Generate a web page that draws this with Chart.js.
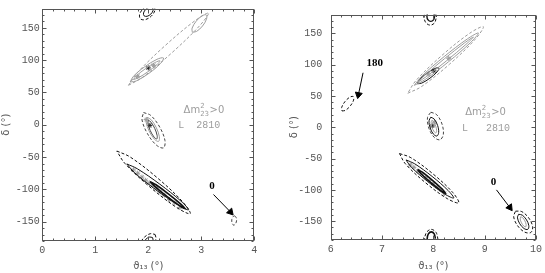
<!DOCTYPE html>
<html>
<head>
<meta charset="utf-8">
<script src="https://cdn.jsdelivr.net/npm/chart.js@4.4.1/dist/chart.umd.min.js"></script>
<style>
    html, body { margin: 0; padding: 0; background: #fff; }
    #wrap { position: relative; width: 545px; height: 273px; overflow: hidden; }
    .panel { position: absolute; top: 0; height: 273px; }
    #leftBox { left: 0; width: 272px; }
    #rightBox { left: 272px; width: 273px; }
</style>
</head>
<body>
<div id="wrap">
    <div class="panel" id="leftBox"><canvas id="leftChart"></canvas></div>
    <div class="panel" id="rightBox"><canvas id="rightChart"></canvas></div>
</div>
<script>
(function () {
    'use strict';

    // ---- left panel (theta13 ~ 2 deg) ----
    const leftXTicks = [0, 1, 2, 3, 4];
    const leftYTicks = [-150, -100, -50, 0, 50, 100, 150];

    const leftTopSolid = [[2.08, 181.3], [2.09, 176.9], [2.047, 171.3], [1.976, 167.9], [1.92, 168.7], [1.91, 173.1], [1.953, 178.7], [2.024, 182.1]];
    const leftTopDashed = [[2.108, 184.1], [2.124, 177.0], [2.055, 168.1], [1.942, 162.7], [1.852, 163.9], [1.836, 171.0], [1.905, 179.9], [2.018, 185.3]];
    const leftBottomSolid = [[2.08, -174.7], [2.09, -179.1], [2.047, -184.7], [1.976, -188.1], [1.92, -187.3], [1.91, -182.9], [1.953, -177.3], [2.024, -173.9]];
    const leftBottomDashed = [[2.128, -169.9], [2.144, -177.0], [2.075, -185.9], [1.962, -191.3], [1.872, -190.1], [1.856, -183.0], [1.925, -174.1], [2.038, -168.7]];

    const leftUpperGraySolid = [[1.658, 66.1], [1.782, 68.18], [2.018, 79.98], [2.227, 94.58], [2.287, 103.4], [2.163, 101.32], [1.928, 89.52], [1.718, 74.92]];
    const leftUpperGrayInner = [[1.72, 70], [1.809, 72.53], [1.992, 82.1], [2.163, 93.07], [2.22, 99], [2.131, 96.47], [1.948, 86.9], [1.777, 75.93]];
    const leftUpperGrayTip = [[2.83, 143.2], [2.911, 144.5], [3.023, 152.9], [3.098, 163.5], [3.095, 170.0], [3.014, 168.7], [2.903, 160.3], [2.827, 149.7]];
    const leftUpperGrayDashed = [[1.626, 61.1], [1.893, 73.59], [2.447, 111.61], [2.963, 152.81], [3.138, 173.0], [2.871, 160.51], [2.317, 122.49], [1.801, 81.29]];

    const leftMiddleGray = [[1.974, 11.5], [2.054, 7.82], [2.152, -4.64], [2.209, -18.58], [2.193, -25.8], [2.113, -22.12], [2.015, -9.66], [1.958, 4.28]];
    const leftMiddleInner = [[2.0, 7], [2.053, 3.88], [2.123, -5.93], [2.167, -16.66], [2.16, -22], [2.107, -18.88], [2.037, -9.07], [1.993, 1.66]];
    const leftMiddleDashed = [[1.909, 18.9], [2.046, 14.45], [2.214, -3.45], [2.314, -24.27], [2.287, -35.8], [2.15, -31.35], [1.982, -13.45], [1.882, 7.37]];

    const leftLowerSolid = [[1.595, -60.7], [1.794, -68.2], [2.217, -92.0], [2.618, -118.4], [2.76, -131.7], [2.561, -124.2], [2.138, -100.4], [1.737, -74.0]];
    const leftLowerDashed = [[1.406, -40.7], [1.66, -50.06], [2.173, -82.4], [2.642, -118.74], [2.792, -137.7], [2.538, -128.34], [2.025, -96.0], [1.556, -59.66]];
    const leftLowerCore = [[2.036, -88.0], [2.145, -92.9], [2.384, -107.3], [2.613, -122.8], [2.698, -130.2], [2.589, -125.3], [2.35, -110.9], [2.121, -95.4]];

    const leftFarDashed = [[3.63, -141], [3.66, -144], [3.665, -149], [3.645, -153.5], [3.61, -155.5], [3.58, -152], [3.575, -147], [3.595, -142.5]];

    const leftBestFit = [[2.0, 88], [2.03, -1]];
    const leftGrayStars = [[1.72, -70], [1.8, -75], [1.88, -81], [1.95, -86], [2.02, -90], [2.08, -94], [2.15, -99], [2.22, -104], [2.3, -109], [2.4, -116], [2.5, -121], [2.6, -128], [1.8, 75], [2.1, 92], [1.96, 8]];
    const leftZeroArrow = [[3.23, -108], [3.55, -135]];

    // ---- right panel (theta13 ~ 8 deg) ----
    const rightXTicks = [6, 7, 8, 9, 10];
    const rightYTicks = [-150, -100, -50, 0, 50, 100, 150];

    const rightTopSolid = [[8.025, 177], [8.003, 182.66], [7.95, 185], [7.897, 182.66], [7.875, 177], [7.897, 171.34], [7.95, 169], [8.003, 171.34]];
    const rightTopDashed = [[8.06, 176], [8.025, 185.19], [7.94, 189], [7.855, 185.19], [7.82, 176], [7.855, 166.81], [7.94, 163], [8.025, 166.81]];
    const rightBottomSolid = [[8.04, -178], [8.017, -170.2], [7.96, -167], [7.903, -170.2], [7.88, -178], [7.903, -185.8], [7.96, -189], [8.017, -185.8]];
    const rightBottomDashed = [[8.09, -179], [8.052, -167.7], [7.96, -163], [7.868, -167.7], [7.83, -179], [7.868, -190.3], [7.96, -195], [8.052, -190.3]];

    const rightUpperGraySolid = [[7.628, 66.9], [7.841, 76.23], [8.297, 104.64], [8.727, 135.42], [8.878, 150.5], [8.665, 141.16], [8.21, 112.76], [7.78, 81.97]];
    const rightUpperGrayInner = [[7.7, 72], [7.871, 81.28], [8.259, 106.26], [8.635, 132.26], [8.78, 144], [8.609, 134.72], [8.221, 109.74], [7.845, 83.74]];
    const rightUpperGrayDashed = [[7.5, 54.2], [7.77, 64.97], [8.315, 100.67], [8.814, 140.31], [8.974, 160.6], [8.704, 149.83], [8.159, 114.13], [7.66, 74.49]];
    const rightUpperBlack = [[7.69, 69.4], [7.776, 70.54], [7.935, 78.45], [8.074, 88.46], [8.11, 94.7], [8.024, 93.56], [7.865, 85.65], [7.726, 75.64]];

    const rightMiddleSolid = [[7.95, 16], [8.019, 12.92], [8.083, 2.84], [8.104, -8.32], [8.07, -14], [8.001, -10.92], [7.937, -0.84], [7.916, 10.32]];
    const rightMiddleDashed = [[7.95, 24], [8.067, 19.9], [8.168, 5.28], [8.195, -11.26], [8.13, -20], [8.014, -15.9], [7.912, -1.28], [7.886, 15.26]];
    const rightMiddleGray = [[7.97, 11], [8.008, 8.73], [8.046, 1.92], [8.064, -5.43], [8.05, -9], [8.012, -6.73], [7.974, 0.08], [7.956, 7.43]];

    const rightLowerSolid = [[7.468, -52.2], [7.634, -58.19], [7.976, -78.51], [8.291, -101.23], [8.397, -113], [8.231, -107.01], [7.89, -86.69], [7.573, -63.97]];
    const rightLowerDashed = [[7.34, -42], [7.562, -48.6], [7.992, -74.4], [8.379, -104.24], [8.494, -120.6], [8.272, -114.0], [7.842, -88.2], [7.455, -58.36]];
    const rightLowerCore = [[7.692, -67.4], [7.785, -71.71], [7.983, -84.65], [8.17, -98.61], [8.237, -105.4], [8.144, -101.09], [7.946, -88.15], [7.759, -74.19]];

    const rightFarSolid = [[9.66, -139], [9.733, -140.31], [9.816, -147.9], [9.861, -157.31], [9.84, -163], [9.767, -161.69], [9.684, -154.1], [9.639, -144.69]];
    const rightFarDashed = [[9.6, -134], [9.722, -134.66], [9.86, -144.92], [9.934, -158.74], [9.9, -168], [9.778, -167.34], [9.64, -157.08], [9.566, -143.26]];
    const rightFarGray = [[9.7, -143], [9.738, -144.2], [9.783, -149.45], [9.808, -155.6], [9.8, -159], [9.762, -157.8], [9.717, -152.55], [9.692, -146.4]];

    const rightPiDashed = [[6.22, 26], [6.29, 27.08], [6.384, 34.28], [6.446, 43.36], [6.44, 49], [6.37, 47.92], [6.276, 40.72], [6.214, 31.64]];

    const rightBestFit = [[8.01, 90], [7.98, 2]];
    const rightGrayStars = [[7.55, -60], [7.62, -64], [7.7, -70], [7.78, -75], [7.85, -80], [7.92, -85], [8.0, -90], [8.08, -95], [8.15, -100], [8.22, -106], [7.9, 85], [8.3, 110], [8.02, 8]];
    const rightZeroArrow = [[9.23, -100], [9.49, -128]];
    const rightPiArrow = [[6.63, 87], [6.54, 52]];

    const BLACK = '#111';
    const GRAY = '#9c9c9c';
    const TICK_FONT = { family: '"Liberation Mono", "DejaVu Sans Mono", monospace', size: 10 };
    const TITLE_FONT = { family: '"DejaVu Sans", sans-serif', size: 10 };

    function toXY(points) {
        return points.map(function (p) { return { x: p[0], y: p[1] }; });
    }

    function contour(points, color, dashed, width) {
        const data = toXY(points);
        data.push({ x: points[0][0], y: points[0][1] });
        return {
            data: data,
            showLine: true,
            borderColor: color,
            borderWidth: width || 1,
            borderDash: dashed ? [3, 2] : [],
            tension: 0.35,
            pointRadius: 0,
            pointHoverRadius: 0,
            fill: false
        };
    }

    function stars(points, color) {
        return {
            data: toXY(points),
            showLine: false,
            pointStyle: 'star',
            pointRadius: 2.5,
            borderWidth: 1,
            borderColor: color,
            backgroundColor: color
        };
    }

    function arrow(points, rotation) {
        return [{
            data: toXY(points),
            showLine: true,
            borderColor: '#000',
            borderWidth: 1,
            pointRadius: 0,
            tension: 0
        }, {
            data: toXY(points.slice(1)),
            showLine: false,
            pointStyle: 'triangle',
            pointRadius: 4,
            pointRotation: rotation,
            borderColor: '#000',
            backgroundColor: '#000',
            borderWidth: 1
        }];
    }

    const panelDecor = {
        id: 'panelDecor',
        afterDraw: function (chart, args, opts) {
            const ctx = chart.ctx;
            const area = chart.chartArea;
            const xs = chart.scales.x;
            const ys = chart.scales.y;
            const l = Math.round(area.left) + 0.5;
            const r = Math.round(area.right) - 0.5;
            const t = Math.round(area.top) + 0.5;
            const b = Math.round(area.bottom) - 0.5;

            ctx.save();
            ctx.strokeStyle = '#555';
            ctx.lineWidth = 1;
            ctx.strokeRect(l, t, r - l, b - t);

            ctx.beginPath();
            for (let v = xs.min; v <= xs.max + 1e-9; v += opts.minorX) {
                const px = Math.round(xs.getPixelForValue(v)) + 0.5;
                const major = Math.abs(v - Math.round(v)) < 1e-6;
                const len = major ? 4 : 2;
                ctx.moveTo(px, b); ctx.lineTo(px, b - len);
                ctx.moveTo(px, t); ctx.lineTo(px, t + len);
            }
            for (let v = -180; v <= 180; v += opts.minorY) {
                const py = Math.round(ys.getPixelForValue(v)) + 0.5;
                const len = (v % 50 === 0) ? 4 : 2;
                ctx.moveTo(l, py); ctx.lineTo(l + len, py);
                ctx.moveTo(r, py); ctx.lineTo(r - len, py);
            }
            ctx.stroke();

            ctx.textBaseline = 'middle';
            opts.notes.forEach(function (n) {
                ctx.font = n.font;
                ctx.fillStyle = n.color;
                ctx.textAlign = n.align || 'left';
                ctx.fillText(n.text, xs.getPixelForValue(n.x), ys.getPixelForValue(n.y));
            });

            // stacked super/subscript mass label
            const mx = xs.getPixelForValue(opts.mass.x);
            const my = ys.getPixelForValue(opts.mass.y);
            ctx.fillStyle = GRAY;
            ctx.textAlign = 'left';
            ctx.font = '10px "DejaVu Sans", sans-serif';
            ctx.fillText('\u0394m', mx, my);
            const w1 = ctx.measureText('\u0394m').width;
            ctx.font = '7px "DejaVu Sans", sans-serif';
            ctx.fillText('2', mx + w1, my - 4);
            ctx.fillText('23', mx + w1, my + 3.5);
            const w2 = ctx.measureText('23').width;
            ctx.font = '10px "DejaVu Sans", sans-serif';
            ctx.fillText('>0', mx + w1 + w2 + 0.5, my);
            ctx.restore();
        }
    };

    function buildChart(id, cfg) {
        return new Chart(document.getElementById(id), {
            type: 'scatter',
            data: { datasets: cfg.datasets },
            options: {
                responsive: true,
                maintainAspectRatio: false,
                animation: false,
                events: [],
                layout: { padding: cfg.padding },
                plugins: {
                    legend: { display: false },
                    tooltip: { enabled: false },
                    panelDecor: cfg.decor
                },
                scales: {
                    x: {
                        type: 'linear',
                        min: cfg.xMin,
                        max: cfg.xMax,
                        afterBuildTicks: function (s) { s.ticks = cfg.xTicks.map(function (v) { return { value: v }; }); },
                        afterFit: function (s) { s.height = cfg.xHeight; },
                        ticks: { font: TICK_FONT, color: '#555', padding: 3, maxRotation: 0 },
                        grid: { display: false, drawTicks: false },
                        border: { display: false },
                        title: { display: true, text: '\u03d1\u2081\u2083 (\u00b0)', font: TITLE_FONT, color: '#555', padding: { top: 0, bottom: 1 } }
                    },
                    y: {
                        type: 'linear',
                        min: -180,
                        max: 180,
                        afterBuildTicks: function (s) { s.ticks = cfg.yTicks.map(function (v) { return { value: v }; }); },
                        afterFit: function (s) { s.width = cfg.yWidth; },
                        ticks: { font: TICK_FONT, color: '#555', padding: cfg.yPad },
                        grid: { display: false, drawTicks: false },
                        border: { display: false },
                        title: { display: true, text: '\u03b4 (\u00b0)', font: TITLE_FONT, color: '#555', padding: { top: cfg.yTitlePad, bottom: 0 } }
                    }
                }
            },
            plugins: [panelDecor]
        });
    }

    const serifBold = 'bold 11px "Liberation Serif", "DejaVu Serif", serif';
    const monoText = '10px "Liberation Mono", "DejaVu Sans Mono", monospace';

    buildChart('leftChart', {
        xMin: 0, xMax: 4, xTicks: leftXTicks, yTicks: leftYTicks,
        xHeight: 32, yWidth: 42.3, yPad: 2.5, yTitlePad: 0,
        padding: { left: 0, top: 0.5, right: 17.7, bottom: 0 },
        decor: {
            minorX: 0.2, minorY: 10,
            mass: { x: 2.665, y: 22.4 },
            notes: [
                { x: 2.565, y: -1.5, text: 'L  2810', font: monoText, color: GRAY },
                { x: 3.2, y: -95.5, text: '0', font: serifBold, color: '#000', align: 'center' }
            ]
        },
        datasets: [
            contour(leftUpperGrayDashed, GRAY, true),
            contour(leftUpperGraySolid, GRAY, false),
            contour(leftUpperGrayInner, GRAY, false),
            contour(leftUpperGrayTip, GRAY, false),
            contour(leftMiddleDashed, '#444', true),
            contour(leftMiddleGray, GRAY, false),
            contour(leftMiddleInner, '#444', false),
            contour(leftLowerDashed, BLACK, true),
            contour(leftLowerSolid, BLACK, false),
            contour(leftLowerCore, BLACK, false, 1.6),
            contour(leftTopDashed, BLACK, true),
            contour(leftTopSolid, BLACK, false),
            contour(leftBottomDashed, BLACK, true),
            contour(leftBottomSolid, BLACK, false),
            contour(leftFarDashed, '#444', true),
            stars(leftGrayStars, GRAY),
            stars(leftBestFit, '#222')
        ].concat(arrow(leftZeroArrow, 138))
    });

    buildChart('rightChart', {
        xMin: 6, xMax: 10, xTicks: rightXTicks, yTicks: rightYTicks,
        xHeight: 33, yWidth: 58.7, yPad: 8.5, yTitlePad: 16.5,
        padding: { left: 0, top: 2, right: 6.3, bottom: 0 },
        decor: {
            minorX: 0.2, minorY: 10,
            mass: { x: 8.621, y: 23.3 },
            notes: [
                { x: 8.558, y: -1.1, text: 'L   2810', font: monoText, color: GRAY },
                { x: 9.17, y: -88, text: '0', font: serifBold, color: '#000', align: 'center' },
                { x: 6.86, y: 102, text: '180', font: serifBold, color: '#000', align: 'center' }
            ]
        },
        datasets: [
            contour(rightUpperGrayDashed, GRAY, true),
            contour(rightUpperGraySolid, GRAY, false),
            contour(rightUpperGrayInner, GRAY, false),
            contour(rightUpperBlack, BLACK, false),
            contour(rightMiddleDashed, '#444', true),
            contour(rightMiddleSolid, BLACK, false),
            contour(rightMiddleGray, GRAY, false),
            contour(rightLowerDashed, BLACK, true),
            contour(rightLowerSolid, BLACK, false),
            contour(rightLowerCore, BLACK, false, 1.6),
            contour(rightTopDashed, BLACK, true),
            contour(rightTopSolid, BLACK, false, 1.4),
            contour(rightBottomDashed, BLACK, true),
            contour(rightBottomSolid, BLACK, false, 1.6),
            contour(rightFarDashed, BLACK, true),
            contour(rightFarSolid, BLACK, false),
            contour(rightFarGray, GRAY, false),
            contour(rightPiDashed, BLACK, true),
            stars(rightGrayStars, GRAY),
            stars(rightBestFit, '#222')
        ].concat(arrow(rightZeroArrow, 144), arrow(rightPiArrow, 191))
    });
})();
</script>
</body>
</html>
